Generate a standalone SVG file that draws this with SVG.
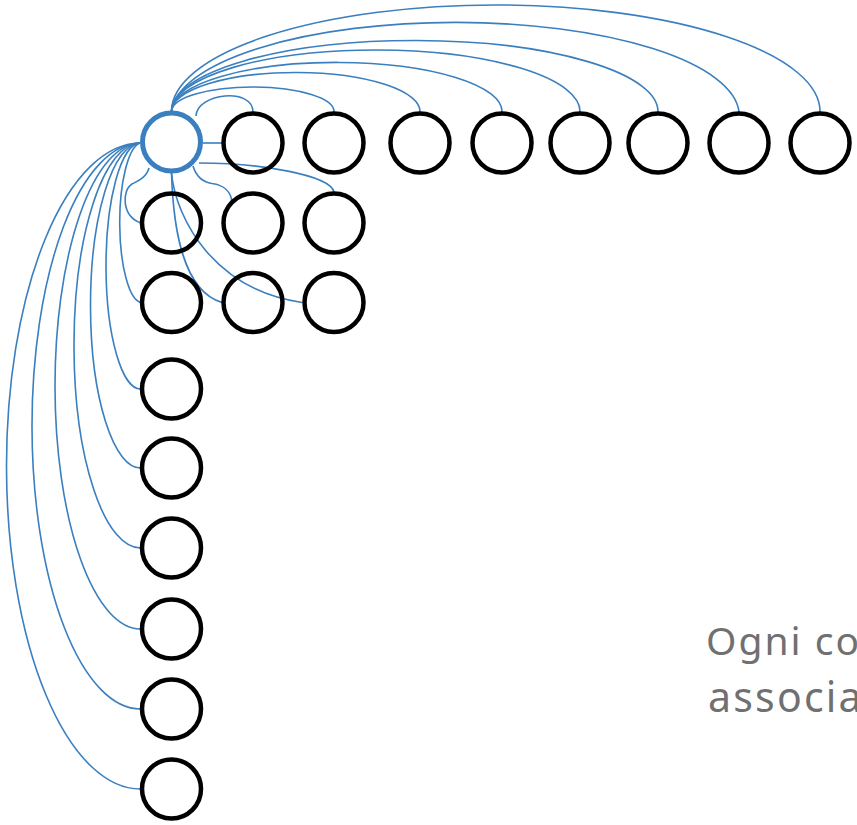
<svg xmlns="http://www.w3.org/2000/svg" width="857" height="825" viewBox="0 0 857 825">
  <style>
    .link { fill: none; stroke: #3a7fbf; stroke-width: 1.6; }
    .node { fill: none; stroke: #000; stroke-width: 4.5; }
    .hub { fill: none; stroke: #3a7fbf; stroke-width: 5; }
    .caption { font-family: "Noto Sans", "Open Sans", sans-serif; fill: #707070; }
  </style>
  <rect width="857" height="825" fill="#fff"/>

  <g id="connectors">
    <!-- arcs over the top row -->
    <path class="link" d="M196,116 C197,93 253,87 253,112"/>
    <path class="link" d="M171.5,111 A81,24.5 0 0 1 334,112"/>
    <path class="link" d="M171.5,111 A124,39 0 0 1 420,112"/>
    <path class="link" d="M171.5,111 A165,49 0 0 1 502,112"/>
    <path class="link" d="M171.5,111 A204,61.5 0 0 1 580,112"/>
    <path class="link" d="M171.5,111 A243,71 0 0 1 658,112"/>
    <path class="link" d="M171.5,111 A284,93 0 0 1 739,112"/>
    <path class="link" d="M171.5,111 A324,106.5 0 0 1 820,112"/>
    <!-- straight link to the right neighbour -->
    <path class="link" d="M203,143 L223,143"/>
    <!-- links into the 2x2 block -->
    <path class="link" d="M193,166 C196,176 202,182 212,183.5 C224,185 231,192 232,202"/>
    <path class="link" d="M199,163 C260,163 330,175 334,192"/>
    <path class="link" d="M171.5,173 C173,220 180,290 222,302.5"/>
    <path class="link" d="M171.5,173 C176,220 215,290 302,302.5"/>
    <!-- link to the node right below -->
    <path class="link" d="M149,168 C146,178 138,181 132,184 C122,190 121,216 141,223"/>
    <!-- arcs down the left column -->
    <path class="link" d="M140,143 A22.5,80 0 0 0 141,302.5"/>
    <path class="link" d="M140,143 A34.5,123 0 0 0 141,389"/>
    <path class="link" d="M140,143 A50,162.5 0 0 0 141,468"/>
    <path class="link" d="M140,143 A66.5,202.5 0 0 0 141,548"/>
    <path class="link" d="M140,143 A85.5,243 0 0 0 141,629"/>
    <path class="link" d="M140,143 A108.5,283 0 0 0 141,709"/>
    <path class="link" d="M140,143 A134,323 0 0 0 141,789"/>
  </g>

  <g id="hub"><circle class="hub" cx="171.5" cy="142" r="29"/></g>

  <g id="top-row">
    <g id="t1"><circle class="node" cx="253" cy="143" r="29.5"/></g>
    <g id="t2"><circle class="node" cx="334" cy="143" r="29.5"/></g>
    <g id="t3"><circle class="node" cx="420" cy="143" r="29.5"/></g>
    <g id="t4"><circle class="node" cx="502" cy="143" r="29.5"/></g>
    <g id="t5"><circle class="node" cx="580" cy="143" r="29.5"/></g>
    <g id="t6"><circle class="node" cx="658" cy="143" r="29.5"/></g>
    <g id="t7"><circle class="node" cx="739" cy="143" r="29.5"/></g>
    <g id="t8"><circle class="node" cx="820" cy="143" r="29.5"/></g>
  </g>

  <g id="block">
    <g id="b1"><circle class="node" cx="253" cy="223" r="29.5"/></g>
    <g id="b2"><circle class="node" cx="334" cy="223" r="29.5"/></g>
    <g id="b3"><circle class="node" cx="253" cy="302.5" r="29.5"/></g>
    <g id="b4"><circle class="node" cx="334" cy="302.5" r="29.5"/></g>
  </g>

  <g id="left-column">
    <g id="l1"><circle class="node" cx="171.5" cy="223" r="29.5"/></g>
    <g id="l2"><circle class="node" cx="171.5" cy="302.5" r="29.5"/></g>
    <g id="l3"><circle class="node" cx="171.5" cy="389" r="29.5"/></g>
    <g id="l4"><circle class="node" cx="171.5" cy="468" r="29.5"/></g>
    <g id="l5"><circle class="node" cx="171.5" cy="548" r="29.5"/></g>
    <g id="l6"><circle class="node" cx="171.5" cy="629" r="29.5"/></g>
    <g id="l7"><circle class="node" cx="171.5" cy="709" r="29.5"/></g>
    <g id="l8"><circle class="node" cx="171.5" cy="789" r="29.5"/></g>
  </g>

  <g id="caption">
    <text class="caption" x="706" y="654.5" font-size="39" letter-spacing="2">Ogni co</text>
    <text class="caption" x="708" y="712" font-size="41" letter-spacing="2.2">associa</text>
  </g>
</svg>
